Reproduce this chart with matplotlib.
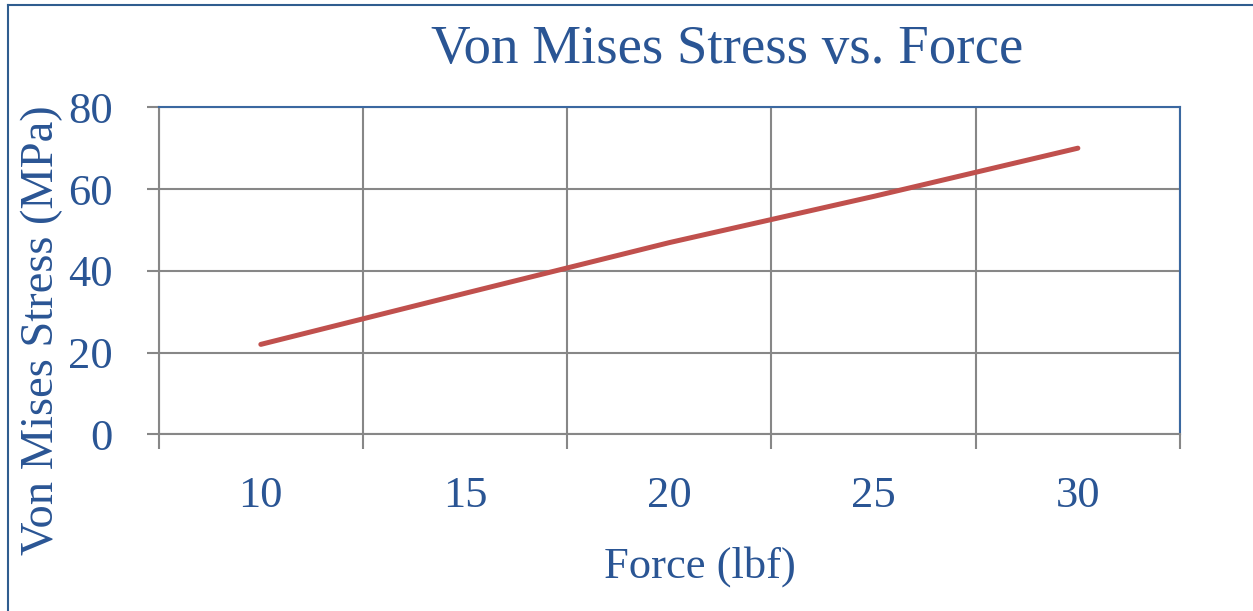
import matplotlib
matplotlib.use("Agg")
import matplotlib.pyplot as plt
from matplotlib.lines import Line2D

categories = ["10", "15", "20", "25", "30"]
stress = [22.0, 34.5, 46.9, 58.2, 70.0]
yticks = [0, 20, 40, 60, 80]

W, H = 1253, 611
DPI = 100
TXT = "#2A5594"
GRID = "#878787"
BLUE = "#3B68A0"
FONT = "Liberation Serif"

fig = plt.figure(figsize=(W / DPI, H / DPI), dpi=DPI)
fig.patch.set_facecolor("white")

left, right, top, bot = 158.7, 1180, 107.3, 434.3
ax = fig.add_axes([left / W, (H - bot) / H, (right - left) / W, (bot - top) / H])

x = list(range(len(categories)))
ax.plot(x, stress, color="#C0504D", lw=3.6, solid_capstyle="round", zorder=3)

ax.set_xlim(-0.5, len(categories) - 0.5)
ax.set_ylim(0, 80)
ax.set_xticks(x)
ax.set_xticklabels(categories)
ax.set_xticks([i - 0.5 for i in range(len(categories) + 1)], minor=True)
ax.set_yticks(yticks)
ax.set_yticklabels([str(v) for v in yticks])

ax.grid(True, which="minor", axis="x", color=GRID, lw=1.5)
ax.grid(True, which="major", axis="y", color=GRID, lw=1.5)
ax.tick_params(axis="x", which="major", length=0, pad=30, labelsize=32, labelcolor=TXT)
ax.tick_params(axis="x", which="minor", length=11, width=1.5, color=GRID, direction="out")
ax.tick_params(axis="y", which="major", length=9, width=1.5, color=GRID, direction="out",
               pad=24, labelsize=32, labelcolor=TXT)
for lab in ax.get_xticklabels() + ax.get_yticklabels():
    lab.set_fontfamily(FONT)

for s in ["left", "bottom"]:
    ax.spines[s].set_color(GRID)
    ax.spines[s].set_linewidth(1.5)
for s in ["top", "right"]:
    ax.spines[s].set_color(BLUE)
    ax.spines[s].set_linewidth(1.5)

fig.text(727 / W, 1 - 50 / H, "Von Mises Stress vs. Force", ha="center", va="center",
         fontsize=39.5, color=TXT, family=FONT)
fig.text(700 / W, 1 - 567 / H, "Force (lbf)", ha="center", va="center",
         fontsize=32, color=TXT, family=FONT)
fig.text(42 / W, 1 - 330 / H, "Von Mises Stress (MPa)", ha="center", va="center",
         rotation=90, fontsize=33.5, color=TXT, family=FONT)

# chart border (left and top edges visible)
fig.add_artist(Line2D([8 / W, 8 / W], [0, 1 - 5 / H], transform=fig.transFigure,
                      color="#2F5D8F", lw=1.5))
fig.add_artist(Line2D([8 / W, 1], [1 - 5 / H, 1 - 5 / H], transform=fig.transFigure,
                      color="#2F5D8F", lw=1.5))

fig.savefig("out.png", dpi=DPI)
